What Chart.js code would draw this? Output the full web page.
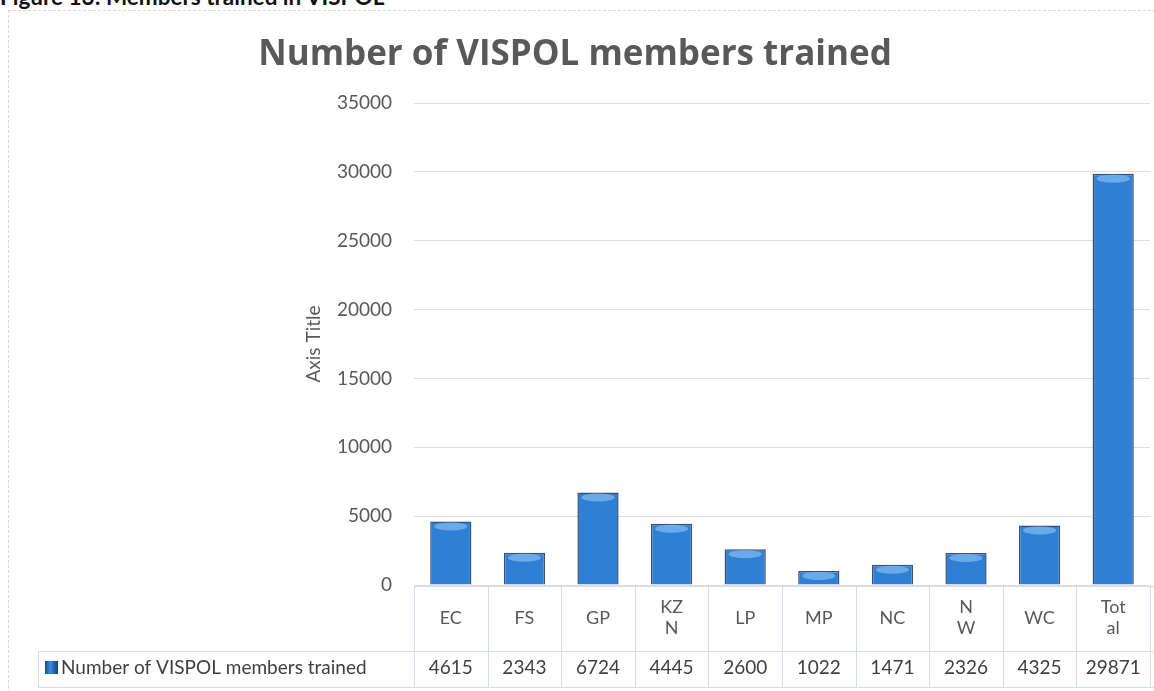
<!DOCTYPE html>
<html>
<head>
<meta charset="utf-8">
<script src="https://cdn.jsdelivr.net/npm/chart.js@4/dist/chart.umd.min.js"></script>
<style>
  html, body { margin: 0; padding: 0; background: #fff; }
  #wrap { position: relative; width: 1154px; height: 691px; overflow: hidden; }
  #frame { position: absolute; left: 8px; top: 10px; right: -2px; bottom: -2px; border: 1px dashed #cfd9e3; }
  #caption { position: absolute; left: 0px; top: -17px; font: bold 22.5px Lato, sans-serif; color: #111; white-space: nowrap; }
  canvas { position: absolute; left: 0; top: 0; }
</style>
</head>
<body>
<div id="wrap">
  <div id="frame"></div>
  <div id="caption">Figure 13: Members trained in VISPOL</div>
  <canvas id="vispolChart" width="1154" height="691"></canvas>
</div>
<script>
/* 데이터 */
const categories  = [['EC'], ['FS'], ['GP'], ['KZ', 'N'], ['LP'], ['MP'], ['NC'], ['N', 'W'], ['WC'], ['Tot', 'al']];
const trainedVals = [4615, 2343, 6724, 4445, 2600, 1022, 1471, 2326, 4325, 29871];
const seriesName  = 'Number of VISPOL members trained';
const yTicks      = [0, 5000, 10000, 15000, 20000, 25000, 30000, 35000];

const FONT = 'Lato, "Open Sans", sans-serif';
const LINE = '#d3dde7';

/* 막대 그라데이션 (원통 느낌) */
function barFill(ctx) {
  const chart = ctx.chart;
  const el = ctx.element;
  if (!el || !chart.chartArea || el.x === undefined) return '#2f7fd5';
  const w = el.width || 40;
  const g = chart.ctx.createLinearGradient(el.x - w / 2, 0, el.x + w / 2, 0);
  g.addColorStop(0,    '#1a4a88');
  g.addColorStop(0.12, '#3b8de0');
  g.addColorStop(0.45, '#3185dc');
  g.addColorStop(0.8,  '#2872c6');
  g.addColorStop(1,    '#163f78');
  return g;
}

/* 원통 윗면 하이라이트 */
const topCapPlugin = {
  id: 'topCap',
  afterDatasetsDraw(chart) {
    const ctx = chart.ctx;
    chart.getDatasetMeta(0).data.forEach(bar => {
      const w = bar.width;
      ctx.save();
      ctx.fillStyle = 'rgba(130,188,242,0.7)';
      ctx.beginPath();
      ctx.ellipse(bar.x, bar.y + 5, w / 2 - 4, 4, 0, 0, Math.PI * 2);
      ctx.fill();
      ctx.restore();
    });
  }
};

/* 데이터 테이블 (범례 + 값) */
const dataTablePlugin = {
  id: 'dataTable',
  afterDraw(chart) {
    const ctx = chart.ctx;
    const xs = chart.scales.x;
    const left = xs.left, right = xs.right;
    const step = (right - left) / categories.length;
    const top = chart.chartArea.bottom + 1;
    const mid = 651, bot = 687, keyLeft = 38;

    ctx.save();
    ctx.strokeStyle = LINE;
    ctx.lineWidth = 1;
    ctx.beginPath();
    ctx.moveTo(left, top + 0.5);      ctx.lineTo(right + 4, top + 0.5);
    ctx.moveTo(keyLeft, mid + 0.5);   ctx.lineTo(right + 4, mid + 0.5);
    ctx.moveTo(keyLeft, bot + 0.5);   ctx.lineTo(right + 4, bot + 0.5);
    ctx.moveTo(keyLeft + 0.5, mid);   ctx.lineTo(keyLeft + 0.5, bot);
    for (let i = 0; i <= categories.length; i++) {
      const x = Math.round(left + i * step) + 0.5;
      ctx.moveTo(x, top); ctx.lineTo(x, bot);
    }
    ctx.stroke();

    /* 범례 키 */
    const kg = ctx.createLinearGradient(45, 0, 58, 0);
    kg.addColorStop(0, '#1a4a88'); kg.addColorStop(0.4, '#3b8de0'); kg.addColorStop(1, '#163f78');
    ctx.fillStyle = kg;
    ctx.fillRect(45, 661, 13, 13);

    ctx.fillStyle = '#404040';
    ctx.font = '19px ' + FONT;
    ctx.textBaseline = 'middle';
    ctx.textAlign = 'left';
    ctx.fillText(seriesName, 61, 668);

    ctx.textAlign = 'center';
    trainedVals.forEach((v, i) => {
      ctx.fillText(String(v), xs.getPixelForValue(i), 668);
    });
    ctx.restore();
  }
};

new Chart(document.getElementById('vispolChart'), {
  type: 'bar',
  data: {
    labels: categories,
    datasets: [{
      label: seriesName,
      data: trainedVals,
      backgroundColor: barFill,
      borderColor: 'rgba(22,50,90,0.85)',
      borderWidth: 1.5,
      categoryPercentage: 1,
      barPercentage: 0.56,
    }],
  },
  options: {
    responsive: false,
    devicePixelRatio: 1,
    animation: false,
    layout: { padding: { left: 0, right: 4, top: 0, bottom: 36 } },
    plugins: {
      legend: { display: false },
      tooltip: { enabled: false },
      title: {
        display: true,
        text: 'Number of VISPOL members trained',
        color: '#595959',
        font: { family: '"Open Sans", Lato, sans-serif', size: 35, weight: 'bold' },
        padding: { top: 34, bottom: 27 },
      },
    },
    scales: {
      x: {
        grid: { display: false, drawTicks: false },
        border: { display: false },
        ticks: {
          color: '#595959',
          font: { family: FONT, size: 18 },
          padding: 22,
          crossAlign: 'center',
          maxRotation: 0,
          autoSkip: false,
        },
        afterFit: s => { s.height = 70; },
      },
      y: {
        min: 0,
        max: 35000,
        afterBuildTicks: s => { s.ticks = yTicks.map(v => ({ value: v })); },
        grid: { color: '#dedede', drawTicks: false },
        border: { display: false },
        ticks: {
          color: '#595959',
          font: { family: FONT, size: 19 },
          padding: 22,
          callback: v => String(v),
        },
        title: {
          display: true,
          text: 'Axis Title',
          color: '#595959',
          font: { family: FONT, size: 19 },
          padding: { top: 302, bottom: 0 },
        },
        afterFit: s => { s.width = 414; },
      },
    },
  },
  plugins: [topCapPlugin, dataTablePlugin],
});
</script>
</body>
</html>
